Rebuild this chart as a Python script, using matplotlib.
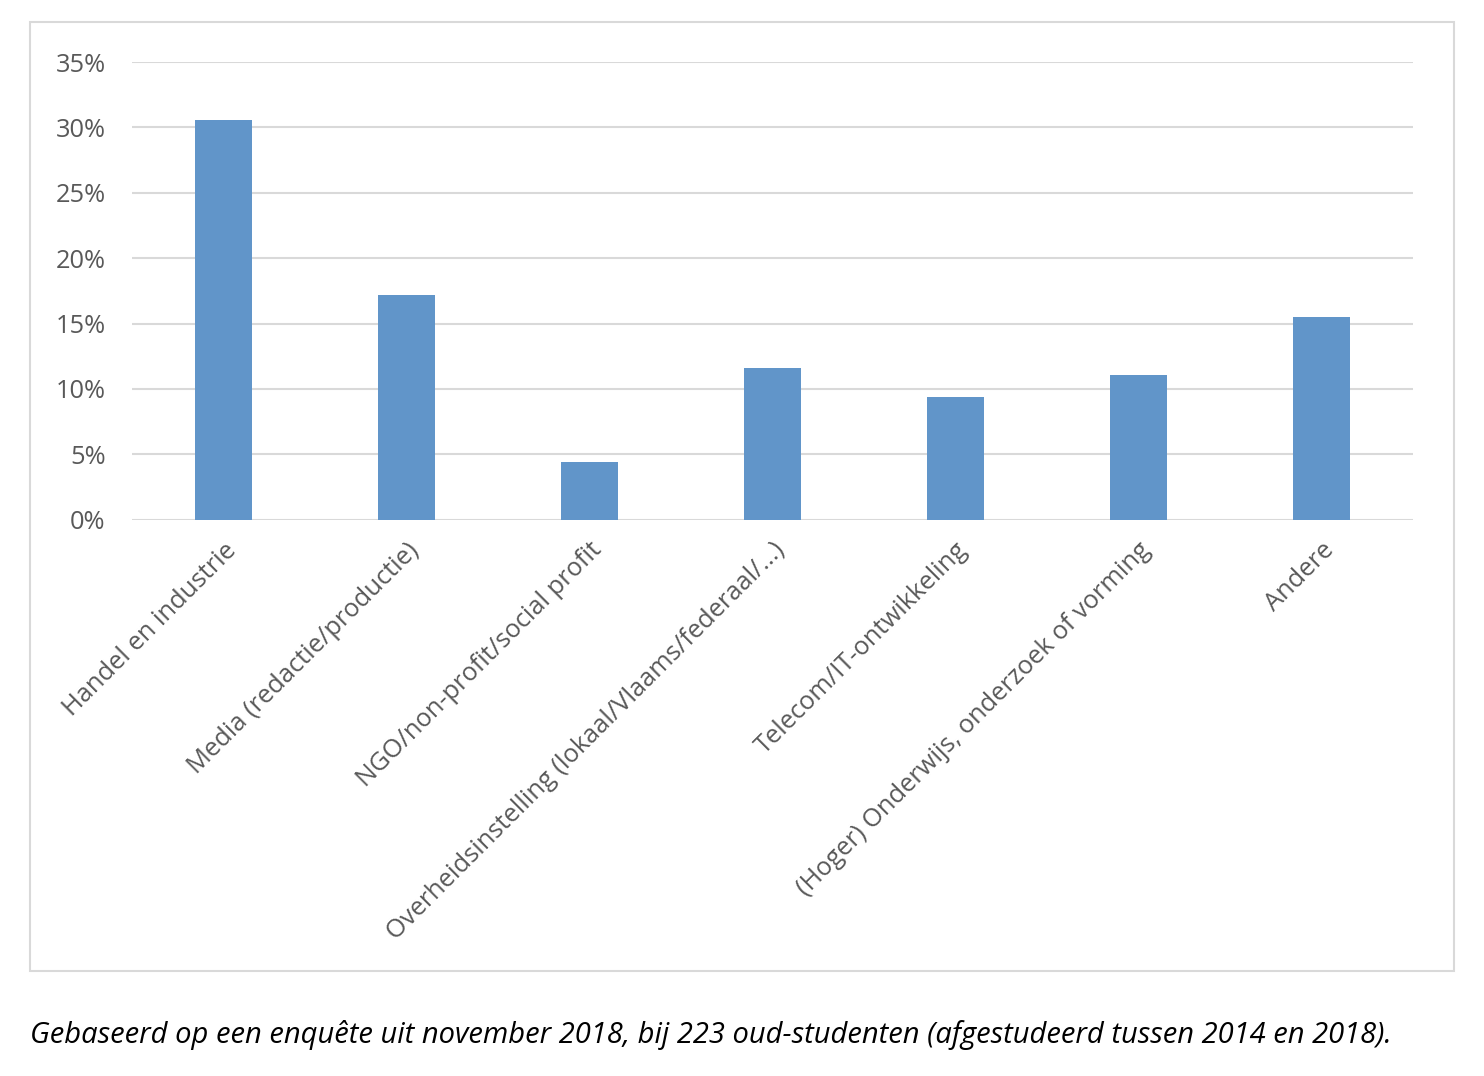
import matplotlib.pyplot as plt
from matplotlib.patches import Rectangle
from matplotlib.ticker import FuncFormatter

categories = [
    "Handel en industrie",
    "Media (redactie/productie)",
    "NGO/non-profit/social profit",
    "Overheidsinstelling (lokaal/Vlaams/federaal/...)",
    "Telecom/IT-ontwikkeling",
    "(Hoger) Onderwijs, onderzoek of vorming",
    "Andere",
]
percentages = [30.6, 17.2, 4.4, 11.6, 9.4, 11.1, 15.5]
yticks = [0, 5, 10, 15, 20, 25, 30, 35]
caption = ("Gebaseerd op een enquête uit november 2018, bij 223 oud-studenten "
           "(afgestudeerd tussen 2014 en 2018).")

plt.rcParams['font.family'] = ['Open Sans', 'DejaVu Sans']
text_color = '#595959'

fig = plt.figure(figsize=(14.84, 10.76), dpi=100)
ax = fig.add_axes([132 / 1484, 1 - 519.7 / 1076, 1280.7 / 1484, 457.7 / 1076])

# chart border
fig.patches.append(Rectangle((30 / 1484, 1 - 971 / 1076), 1424 / 1484, 949 / 1076,
                             transform=fig.transFigure, fill=False,
                             edgecolor='#D9D9D9', linewidth=1.5, zorder=0))

x = range(len(categories))
ax.bar(x, percentages, width=0.31, color='#6195C9', zorder=3)

ax.set_xlim(-0.5, len(categories) - 0.5)
ax.set_ylim(0, 35)
ax.set_yticks(yticks)
ax.yaxis.set_major_formatter(FuncFormatter(lambda v, p: f"{v:.0f}%"))
ax.grid(axis='y', color='#D9D9D9', linewidth=1.5, zorder=0)
for s in ax.spines.values():
    s.set_visible(False)
ax.tick_params(axis='y', length=0, labelsize=18.3, colors=text_color, pad=19)

ax.set_xticks(list(x))
ax.set_xticklabels(categories, rotation=45, ha='right', va='top',
                   rotation_mode='anchor')
ax.tick_params(axis='x', length=0, labelsize=18.4, colors=text_color, pad=13)

fig.text(30 / 1484, 1 - 1043 / 1076, caption, fontsize=21.0, style='italic',
         color='black', ha='left', va='baseline')

fig.savefig('out.png', dpi=100, facecolor='white')
